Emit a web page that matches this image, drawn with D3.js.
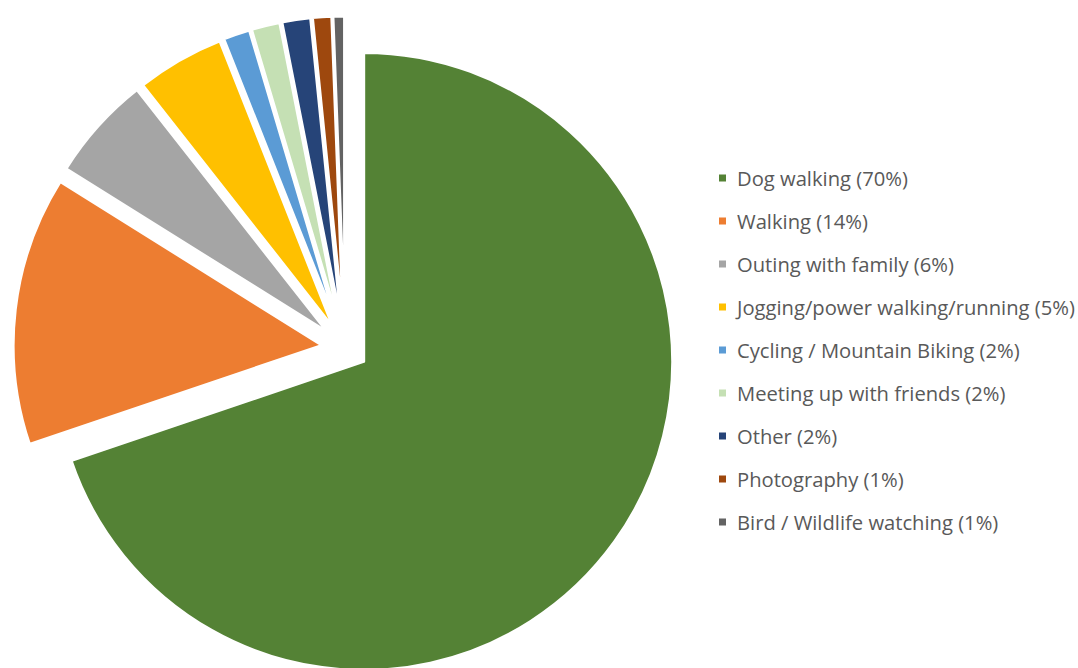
<!DOCTYPE html>
<html>
<head>
<meta charset="utf-8">
<script src="https://cdn.jsdelivr.net/npm/d3@7/dist/d3.min.js"></script>
<style>
html,body{margin:0;padding:0;background:#fff;}
svg{display:block;}
</style>
</head>
<body>
<svg id="chart" width="1078" height="668"></svg>
<script>
const categories = ["Dog walking","Walking","Outing with family","Jogging/power walking/running","Cycling / Mountain Biking","Meeting up with friends","Other","Photography","Bird / Wildlife watching"];
const legendLabels = ["Dog walking (70%)","Walking (14%)","Outing with family (6%)","Jogging/power walking/running (5%)","Cycling / Mountain Biking (2%)","Meeting up with friends (2%)","Other (2%)","Photography (1%)","Bird / Wildlife watching (1%)"];
const values = [69.8, 14.1, 5.5, 4.6, 1.4, 1.5, 1.5, 1.0, 0.6];
const colors = ["#548235","#ED7D31","#A5A5A5","#FFC000","#5B9BD5","#C5E0B4","#264478","#9E480E","#636363"];

const svg = d3.select("#chart");
const cx = 345, cy = 348, R = 309, explode = 23;

const pie = d3.pie().sort(null).value(d => d.v);
const arcs = pie(categories.map((c,i)=>({c, v: values[i], i})));
const arc = d3.arc().innerRadius(0).outerRadius(R);

svg.append("g").attr("transform",`translate(${cx},${cy})`)
  .selectAll("path").data(arcs).join("path")
  .attr("d", arc)
  .attr("fill", d => colors[d.data.i])
  .attr("stroke", "#fff").attr("stroke-width", 3).attr("stroke-linejoin","round")
  .attr("transform", d => {
    const m = (d.startAngle + d.endAngle)/2;
    return `translate(${Math.sin(m)*explode},${-Math.cos(m)*explode})`;
  });

const y = d3.scaleBand().domain(categories).range([157, 544]);
const lg = svg.append("g");
const rows = lg.selectAll("g").data(categories).join("g")
  .attr("transform", c => `translate(719,${y(c)+y.bandwidth()/2})`);
rows.append("rect").attr("x",0).attr("y",-4).attr("width",7).attr("height",7)
  .attr("fill",(c,i)=>colors[i]);
rows.append("text").attr("x",18).attr("y",0).attr("dy","0.35em")
  .attr("font-family","'Open Sans', sans-serif").attr("font-size",20.2)
  .attr("fill","#595959").text((c,i)=>legendLabels[i]);
</script>
</body>
</html>
